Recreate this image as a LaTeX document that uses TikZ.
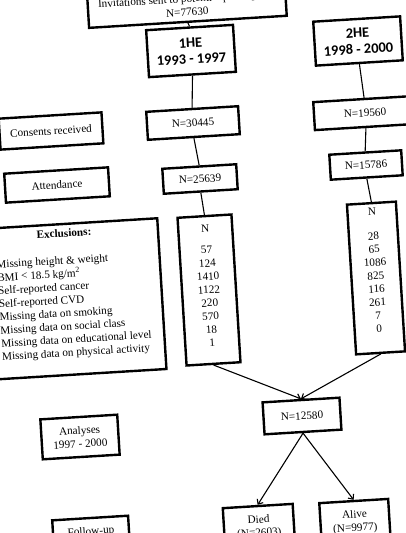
\documentclass[tikz,border=0pt]{standalone}
\usepackage{fontspec}
\setmainfont{Liberation Serif}
\newfontfamily\calfont{Carlito}
\usetikzlibrary{arrows.meta}
\newcommand\tnr{\fontsize{11.2}{13.3}\selectfont}
\begin{document}
\begin{tikzpicture}[x=1pt,y=-1pt,
  box/.style={draw, line width=2.4pt, rotate=3.5, align=center, inner sep=2pt, font=\tnr},
  hebox/.style={box, font=\calfont\bfseries\fontsize{14.4}{16.5}\selectfont},
  link/.style={line width=1.1pt},
  arr/.style={line width=1.1pt, -{Straight Barb[length=4pt,width=7pt]}}]
\useasboundingbox (0,0) rectangle (406,533);
\clip (0,0) rectangle (406,533);

\node[box, minimum width=198pt, inner ysep=6pt, anchor=south] (inv) at (188,23)
  {Invitations sent to potential participants\\N=77630};
\node[hebox, minimum width=87pt, minimum height=47pt] (he1) at (191,51) {1HE\\1993 - 1997};
\node[hebox, minimum width=87pt, minimum height=44pt] (he2) at (358,41) {2HE\\1998 - 2000};

\node[box, minimum width=103pt, minimum height=31pt] (cons) at (51,131) {Consents received};
\node[box, minimum width=104pt, minimum height=29pt] (att) at (57,185) {Attendance};

\node[box, minimum width=92pt, minimum height=28pt] (a1) at (193,123) {N=30445};
\node[box, minimum width=102pt, minimum height=28pt] (a2) at (365,113) {N=19560};
\node[box, minimum width=74pt, minimum height=25pt] (b1) at (200,179) {N=25639};
\node[box, minimum width=72pt, minimum height=25pt] (b2) at (366,165) {N=15786};

\node[box, minimum width=176pt, minimum height=151pt] (excl) at (74,299)
  {\fontsize{11.2}{13.2}\selectfont
   \begin{tabular}{@{}l@{}}
   \multicolumn{1}{@{}c@{}}{\hspace*{-12pt}\textbf{Exclusions:}}\\[13.8pt]
   Missing height \& weight\\
   BMI < 18.5 kg/m\textsuperscript{2}\\
   Self-reported cancer\\
   Self-reported CVD\\
   Missing data on smoking\\
   Missing data on social class\\
   Missing data on educational level\\
   Missing data on physical activity\rule[-14.6pt]{0pt}{14.6pt}
   \end{tabular}};

\node[box, minimum width=54pt, minimum height=148pt] (c1) at (209,290)
  {N\\[8.5pt]57\\124\\1410\\1122\\220\\570\\18\\1\rule[-9pt]{0pt}{9pt}};
\node[box, minimum width=49pt, minimum height=150pt] (c2) at (376,278)
  {N\\[10.7pt]28\\65\\1086\\825\\116\\261\\7\\0\rule[-15pt]{0pt}{15pt}};

\node[box, minimum width=77pt, minimum height=32pt] (tot) at (302,416) {N=12580};
\node[box, minimum width=77pt, minimum height=40pt] (ana) at (80,437) {Analyses\\1997 - 2000};

\node[box, minimum width=70pt, minimum height=42pt] (died) at (259,527) {Died\\(N=2603)};
\node[box, minimum width=69pt, minimum height=42pt] (alive) at (355,522) {Alive\\(N=9977)};
\node[box, minimum width=76pt, minimum height=28pt] (fu) at (91,532) {Follow-up};

\draw[link] (inv.south) -- (he1.north);
\draw[link] (he1.south) -- (a1.north);
\draw[link] (a1.south) -- (b1.north);
\draw[link] (b1.south) -- (c1.north);
\draw[link] (he2.south) -- (a2.north);
\draw[link] (a2.south) -- (b2.north);
\draw[link] (b2.south) -- (c2.north);
\draw[arr] (c1.south) -- (tot.north);
\draw[arr] (c2.south) -- (tot.north);
\draw[arr] (tot.south) -- (died.north);
\draw[arr] (tot.south) -- (alive.north);
\end{tikzpicture}
\end{document}
